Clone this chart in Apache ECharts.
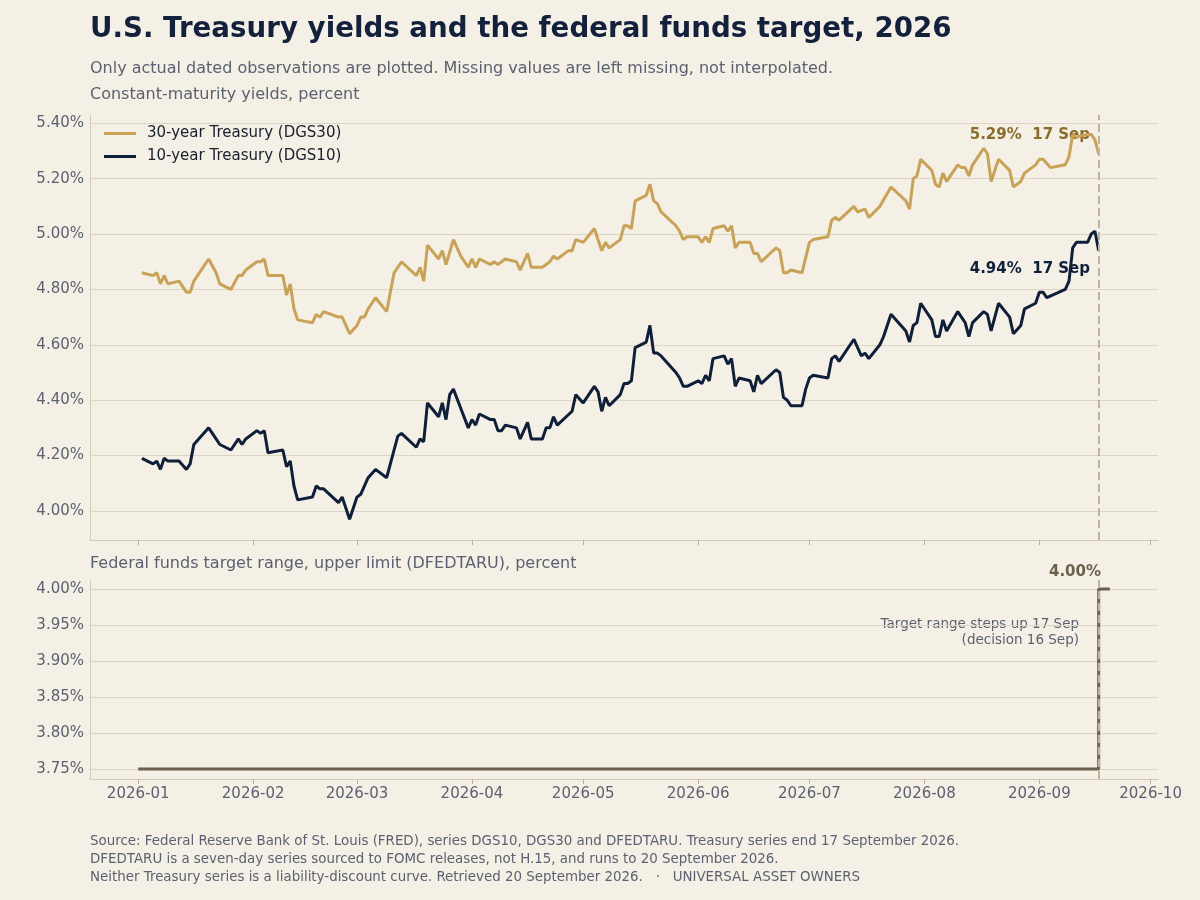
<!DOCTYPE html>
<html>
<head>
<meta charset="utf-8">
<script src="https://cdn.jsdelivr.net/npm/echarts@6/dist/echarts.min.js"></script>
<style>
  html, body { margin: 0; padding: 0; background: #f5f0e6; }
  #chart { width: 1200px; height: 900px; }
</style>
</head>
<body>
<div id="chart"></div>
<script>
// days counted from 1 Jan 2026
const dgs30Day = [1,4,5,6,7,8,11,13,14,15,19,21,22,25,27,28,29,32,33,34,35,39,40,41,42,43,47,48,49,50,54,55,57,
  59,60,61,62,64,67,69,71,75,76,77,78,81,82,83,85,87,89,90,91,92,95,96,97,99,102,103,105,106,109,111,112,113,116,117,118,120,123,125,126,127,
  130,131,132,133,134,137,138,139,140,141,145,146,147,148,151,152,153,154,155,158,159,160,161,162,165,166,167,168,172,173,174,175,176,179,181,182,186,187,188,189,
  193,194,196,197,200,203,207,208,209,210,211,214,215,216,217,218,221,222,223,224,225,228,229,230,232,235,236,238,239,242,243,244,246,250,251,252,253,256,257,258,259];
const dgs30Val = [4.86,4.85,4.86,4.82,4.85,4.82,4.83,4.79,4.79,4.83,4.91,4.86,4.82,4.80,4.85,4.85,4.87,4.90,4.90,4.91,4.85,4.85,4.78,4.82,4.73,4.69,4.68,4.71,4.70,4.72,4.70,4.70,4.64,
  4.67,4.70,4.70,4.73,4.77,4.72,4.86,4.90,4.85,4.88,4.83,4.96,4.91,4.94,4.89,4.98,4.92,4.88,4.91,4.88,4.91,4.89,4.90,4.89,4.91,4.90,4.87,4.93,4.88,4.88,4.90,4.92,4.91,4.94,4.94,4.98,4.97,5.02,4.94,4.97,4.95,
  4.98,5.03,5.03,5.02,5.12,5.14,5.18,5.12,5.11,5.08,5.03,5.01,4.98,4.99,4.99,4.97,4.99,4.97,5.02,5.03,5.01,5.03,4.95,4.97,4.97,4.93,4.93,4.90,4.95,4.94,4.86,4.86,4.87,4.86,4.97,4.98,4.99,5.05,5.06,5.05,
  5.10,5.08,5.09,5.06,5.10,5.17,5.12,5.09,5.20,5.21,5.27,5.23,5.18,5.17,5.22,5.19,5.25,5.24,5.24,5.21,5.25,5.31,5.29,5.19,5.27,5.23,5.17,5.19,5.22,5.25,5.27,5.27,5.24,5.25,5.28,5.36,5.35,5.36,5.36,5.34,5.29];

const dgs10Day = [1,4,5,6,7,8,11,13,14,15,19,21,22,25,27,28,29,32,33,34,35,39,40,41,42,43,47,48,49,50,54,55,57,
  59,60,62,64,67,70,71,75,76,77,78,81,82,83,84,85,87,89,90,91,92,95,96,97,98,99,102,103,105,106,109,110,111,112,113,117,118,120,123,124,125,126,127,
  130,131,132,133,134,137,138,139,140,141,145,146,147,148,151,152,153,154,155,158,159,160,161,162,165,166,167,168,172,173,174,175,176,179,180,181,182,186,187,188,189,
  193,194,195,196,197,200,201,203,207,208,209,210,211,214,215,216,217,218,221,223,224,225,228,229,230,232,235,236,238,239,242,243,244,245,250,251,252,253,256,257,258,259];
const dgs10Val = [4.19,4.17,4.18,4.15,4.19,4.18,4.18,4.15,4.17,4.24,4.30,4.26,4.24,4.22,4.26,4.24,4.26,4.29,4.28,4.29,4.21,4.22,4.16,4.18,4.09,4.04,4.05,4.09,4.08,4.08,4.03,4.05,3.97,
  4.05,4.06,4.12,4.15,4.12,4.27,4.28,4.23,4.26,4.25,4.39,4.34,4.39,4.33,4.42,4.44,4.37,4.30,4.33,4.31,4.35,4.33,4.33,4.29,4.29,4.31,4.30,4.26,4.32,4.26,4.26,4.30,4.30,4.34,4.31,4.36,4.42,4.39,4.45,4.43,4.36,4.41,4.38,
  4.42,4.46,4.46,4.47,4.59,4.61,4.67,4.57,4.57,4.56,4.50,4.48,4.45,4.45,4.47,4.46,4.49,4.47,4.55,4.56,4.53,4.55,4.45,4.48,4.47,4.43,4.49,4.46,4.51,4.50,4.41,4.40,4.38,4.38,4.44,4.48,4.49,4.48,4.55,4.56,4.54,
  4.62,4.59,4.56,4.57,4.55,4.60,4.63,4.71,4.65,4.61,4.67,4.68,4.75,4.69,4.63,4.63,4.69,4.65,4.72,4.68,4.63,4.68,4.72,4.71,4.65,4.75,4.70,4.64,4.67,4.73,4.75,4.79,4.79,4.77,4.80,4.83,4.95,4.97,4.97,5.00,5.01,4.94];

// DFEDTARU: 1 Jan, 16 Sep, 17 Sep, 20 Sep
const fedDay = [0, 258, 259, 262];
const fedVal = [3.75, 3.75, 4.00, 4.00];

const monthLabels = ['2026-01','2026-02','2026-03','2026-04','2026-05','2026-06','2026-07','2026-08','2026-09','2026-10'];
const monthDay = [0, 31, 59, 90, 120, 151, 181, 212, 243, 273];
const yieldTicks = [4.0, 4.2, 4.4, 4.6, 4.8, 5.0, 5.2, 5.4];
const fedTicks = [3.75, 3.80, 3.85, 3.90, 3.95, 4.00];
const lastDay = 259; // 17 Sep

const gold = '#c9a256', navy = '#0f1f3a', step = '#6b604e';
const gridC = '#ddd5c3', txt = '#5b6170', axisC = '#d3cbb9';

function xAxis(idx, showLabel) {
  return {
    type: 'value', gridIndex: idx, min: -13, max: 275,
    axisLine: { show: true, onZero: false, lineStyle: { color: axisC } },
    axisTick: { show: true, customValues: monthDay, lineStyle: { color: '#b8b0a0' }, length: 5 },
    axisLabel: { show: showLabel, customValues: monthDay, color: txt, fontSize: 15, margin: 8,
      formatter: v => monthLabels[monthDay.indexOf(Math.round(v))] || '' },
    splitLine: { show: false }
  };
}

function yAxis(idx, min, max, ticks) {
  return {
    type: 'value', gridIndex: idx, min: min, max: max,
    axisLine: { show: true, onZero: false, lineStyle: { color: axisC } },
    axisTick: { show: false, customValues: ticks },
    axisLabel: { customValues: ticks, color: txt, fontSize: 15, margin: 6, formatter: v => v.toFixed(2) + '%' },
    splitLine: { show: true, lineStyle: { color: gridC, width: 1 } }
  };
}

const dashLine = { silent: true, symbol: 'none', label: { show: false },
  lineStyle: { color: '#bfb39a', type: 'dashed', width: 2 }, data: [{ xAxis: lastDay }] };

const option = {
  backgroundColor: '#f5f0e6',
  animation: false,
  textStyle: { fontFamily: 'DejaVu Sans' },
  title: [
    { text: 'U.S. Treasury yields and the federal funds target, 2026', left: 90, top: 16, padding: 0,
      textStyle: { fontSize: 27.7, fontWeight: 'bold', color: '#14213d' } },
    { text: 'Only actual dated observations are plotted. Missing values are left missing, not interpolated.', left: 90, top: 61, padding: 0,
      textStyle: { fontSize: 16, fontWeight: 'normal', color: txt } },
    { text: 'Constant-maturity yields, percent', left: 90, top: 87, padding: 0,
      textStyle: { fontSize: 16, fontWeight: 'normal', color: txt } },
    { text: 'Federal funds target range, upper limit (DFEDTARU), percent', left: 90, top: 556, padding: 0,
      textStyle: { fontSize: 16, fontWeight: 'normal', color: txt } }
  ],
  legend: {
    left: 104, top: 126, padding: 0, orient: 'vertical', itemGap: 8, itemWidth: 32, itemHeight: 3,
    icon: 'rect', textStyle: { fontSize: 15, color: '#1a1f2e', padding: [0, 0, 0, 6] },
    data: ['30-year Treasury (DGS30)', '10-year Treasury (DGS10)']
  },
  grid: [
    { left: 90, right: 42, top: 115, height: 425 },
    { left: 90, right: 42, top: 580, height: 199 }
  ],
  xAxis: [xAxis(0, false), xAxis(1, true)],
  yAxis: [
    yAxis(0, 3.895, 5.43, yieldTicks),
    yAxis(1, 3.736, 4.0125, fedTicks)
  ],
  series: [
    { name: '30-year Treasury (DGS30)', type: 'line', xAxisIndex: 0, yAxisIndex: 0, showSymbol: false,
      lineStyle: { color: gold, width: 3 }, itemStyle: { color: gold },
      data: dgs30Day.map((d, i) => [d, dgs30Val[i]]), markLine: dashLine },
    { name: '10-year Treasury (DGS10)', type: 'line', xAxisIndex: 0, yAxisIndex: 0, showSymbol: false,
      lineStyle: { color: navy, width: 3 }, itemStyle: { color: navy },
      data: dgs10Day.map((d, i) => [d, dgs10Val[i]]) },
    { name: 'DFEDTARU', type: 'line', xAxisIndex: 1, yAxisIndex: 1, showSymbol: false, step: 'end',
      lineStyle: { color: step, width: 3 },
      data: fedDay.map((d, i) => [d, fedVal[i]]), markLine: dashLine }
  ],
  graphic: [
    { type: 'text', x: 1090, y: 128, style: { text: '5.29%  17 Sep', align: 'right', fill: '#8a6d2b', font: 'bold 15px DejaVu Sans' } },
    { type: 'text', x: 1090, y: 262, style: { text: '4.94%  17 Sep', align: 'right', fill: navy, font: 'bold 15px DejaVu Sans' } },
    { type: 'text', x: 1101, y: 565, style: { text: '4.00%', align: 'right', fill: step, font: 'bold 15px DejaVu Sans' } },
    { type: 'text', x: 1079, y: 616, style: { text: 'Target range steps up 17 Sep\n(decision 16 Sep)', align: 'right',
      fill: txt, font: '13.5px DejaVu Sans', lineHeight: 16 } },
    { type: 'text', x: 90, y: 833, style: {
      text: 'Source: Federal Reserve Bank of St. Louis (FRED), series DGS10, DGS30 and DFEDTARU. Treasury series end 17 September 2026.\n' +
        'DFEDTARU is a seven-day series sourced to FOMC releases, not H.15, and runs to 20 September 2026.\n' +
        'Neither Treasury series is a liability-discount curve. Retrieved 20 September 2026.   ·   UNIVERSAL ASSET OWNERS',
      fill: txt, font: '13.4px DejaVu Sans', lineHeight: 18 } }
  ]
};

echarts.init(document.getElementById('chart')).setOption(option);
</script>
</body>
</html>
